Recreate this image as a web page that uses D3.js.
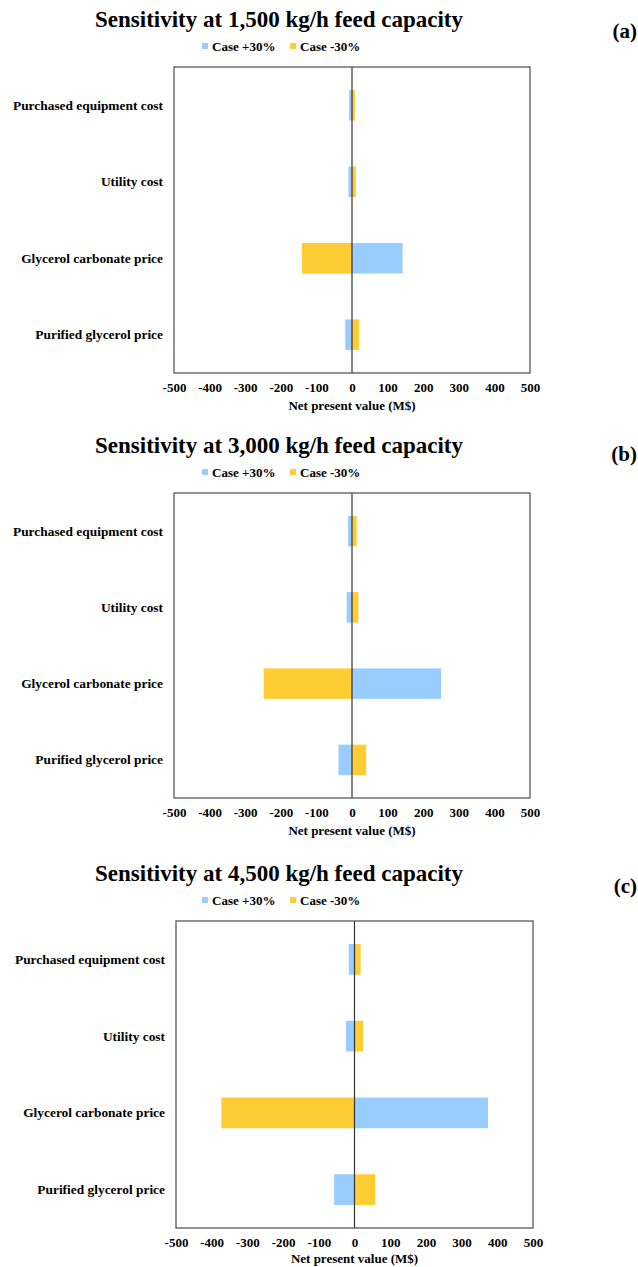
<!DOCTYPE html>
<meta charset="utf-8"/>
<style>
  body { margin: 0; background: #fff; }
  svg text { font-family: "Liberation Serif", "Times New Roman", serif; font-weight: bold; fill: #000; }
</style>
<svg width="638" height="1267"></svg>
<script src="https://cdnjs.cloudflare.com/ajax/libs/d3/7.8.5/d3.min.js"></script>
<script>

// categories, top to bottom
var categories = ["Purchased equipment cost", "Utility cost", "Glycerol carbonate price", "Purified glycerol price"];
var xTicks = [-500, -400, -300, -200, -100, 0, 100, 200, 300, 400, 500];
var seriesNames = ["Case +30%", "Case -30%"];

// NPV change (M$)
var titles = ["Sensitivity at 1,500 kg/h feed capacity", "Sensitivity at 3,000 kg/h feed capacity", "Sensitivity at 4,500 kg/h feed capacity"];
var tags = ["(a)", "(b)", "(c)"];
var plus1500 = [-8, -10, 142, -19];
var minus1500 = [8, 11, -141, 20];
var plus3000 = [-11, -15, 250, -38];
var minus3000 = [13, 18, -248, 40];
var plus4500 = [-16, -24, 374, -57];
var minus4500 = [17, 24, -373, 58];

var colors = ["#99CCFF", "#FFCC33"];

var svg = d3.select("svg");

// box positions for each panel
var panels = [
  {left: 174, right: 530, top: 67, bottom: 373, plus: plus1500, minus: minus1500, tagY: 37},
  {left: 174, right: 530, top: 493, bottom: 798, plus: plus3000, minus: minus3000, tagY: 40},
  {left: 176, right: 533, top: 921, bottom: 1228, plus: plus4500, minus: minus4500, tagY: 36}
];

panels.forEach(function(p, i) {
  var x = d3.scaleLinear().domain([-500, 500]).range([p.left, p.right]);
  var y = d3.scaleBand().domain(categories).range([p.top, p.bottom])
      .paddingInner(0.6).paddingOuter(0.3);

  var g = svg.append("g");

  // title
  g.append("text")
      .attr("x", 279)
      .attr("y", p.top - 40)
      .attr("text-anchor", "middle")
      .style("font-size", "23px")
      .text(titles[i]);

  g.append("text")
      .attr("x", 637)
      .attr("y", p.top - p.tagY + 8)
      .attr("text-anchor", "end")
      .style("font-size", "21px")
      .text(tags[i]);

  // legend
  var leg = g.append("g").attr("transform", "translate(202," + (p.top - 21) + ")");
  [0, 1].forEach(function(k) {
    var lx = k * 88;
    leg.append("rect")
        .attr("x", lx).attr("y", -3)
        .attr("width", 6).attr("height", 6)
        .attr("fill", colors[k]);
    leg.append("text")
        .attr("x", lx + 10).attr("y", 4.5)
        .style("font-size", "13px")
        .text(seriesNames[k]);
  });

  // bars
  var rows = categories.map(function(c, j) { return {cat: c, plus: p.plus[j], minus: p.minus[j]}; });

  g.selectAll(".plus").data(rows).enter().append("rect")
      .attr("x", function(d) { return x(Math.min(0, d.plus)); })
      .attr("y", function(d) { return y(d.cat); })
      .attr("width", function(d) { return Math.abs(x(d.plus) - x(0)); })
      .attr("height", y.bandwidth())
      .attr("fill", colors[0]);

  g.selectAll(".minus").data(rows).enter().append("rect")
      .attr("x", function(d) { return x(Math.min(0, d.minus)); })
      .attr("y", function(d) { return y(d.cat); })
      .attr("width", function(d) { return Math.abs(x(d.minus) - x(0)); })
      .attr("height", y.bandwidth())
      .attr("fill", colors[1]);

  // zero line
  g.append("line")
      .attr("x1", x(0)).attr("x2", x(0))
      .attr("y1", p.top).attr("y2", p.bottom)
      .attr("stroke", "#333").attr("stroke-width", 1.2);

  // box
  g.append("rect")
      .attr("x", p.left).attr("y", p.top)
      .attr("width", p.right - p.left).attr("height", p.bottom - p.top)
      .attr("fill", "none")
      .attr("stroke", "#595959").attr("stroke-width", 1.3);

  // category labels
  g.selectAll(".cat").data(categories).enter().append("text")
      .attr("x", p.left - 11)
      .attr("y", function(d) { return y(d) + y.bandwidth() / 2 + 4.5; })
      .attr("text-anchor", "end")
      .style("font-size", "13.4px")
      .text(function(d) { return d; });

  // x axis labels
  var ax = g.append("g")
      .attr("transform", "translate(0," + p.bottom + ")")
      .call(d3.axisBottom(x).tickValues(xTicks).tickSize(0).tickPadding(10)
        .tickFormat(function(d) { return String(d); }));
  ax.select(".domain").remove();
  ax.selectAll("text")
      .attr("fill", "#000")
      .style("font-family", "Liberation Serif")
      .style("font-weight", "bold")
      .style("font-size", "13px");

  g.append("text")
      .attr("x", x(0))
      .attr("y", p.bottom + (i == 2 ? 35 : 37))
      .attr("text-anchor", "middle")
      .style("font-size", "13px")
      .text("Net present value (M$)");
});

</script>
